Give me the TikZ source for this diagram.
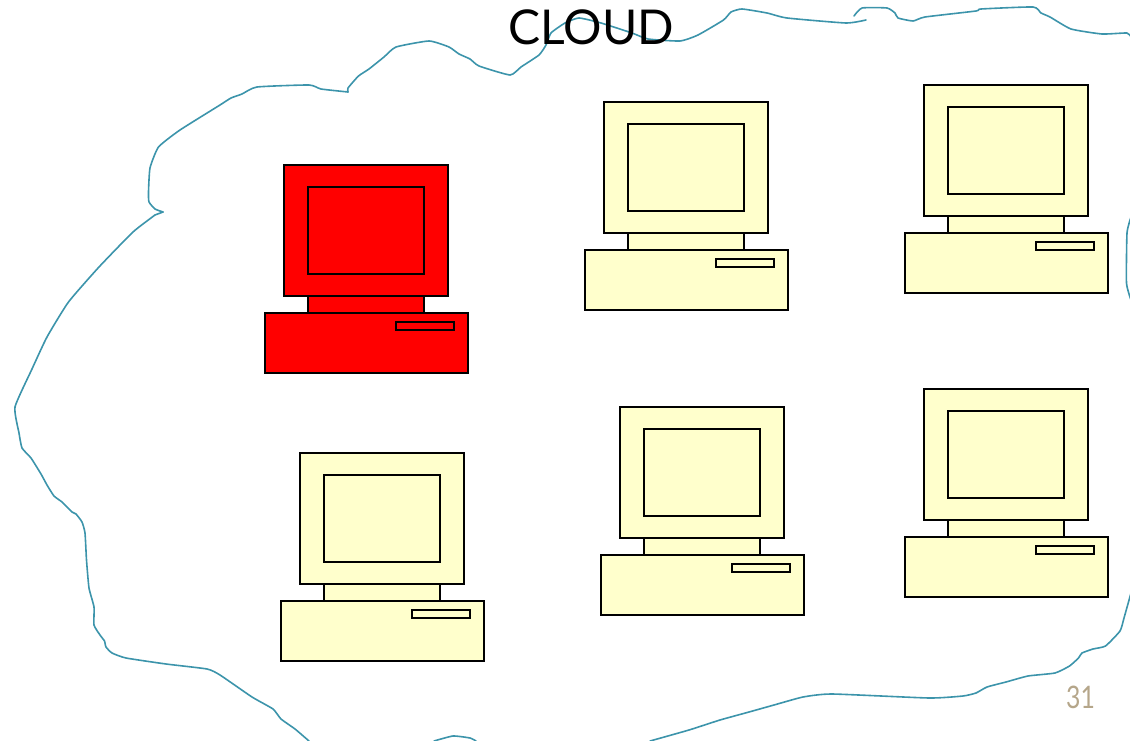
\documentclass[tikz,border=0pt]{standalone}
\usepackage{fontspec}
\setmainfont{Lato}
\newfontfamily\pagefont[FakeStretch=0.8]{Lato}
\definecolor{cloudline}{HTML}{3C94AB}
\definecolor{pcyellow}{HTML}{FFFFCC}
\definecolor{pagetan}{HTML}{B5A68A}
\tikzset{
    pcpart/.style={draw=black, line width=1.7pt, line join=miter},
    cloudedge/.style={draw=cloudline, line width=1.6pt, line join=round, line cap=round}
}
\begin{document}
\begin{tikzpicture}[x=1pt, y=-1pt]
    \useasboundingbox (0,0) rectangle (1130,741);
    \clip (0,0) rectangle (1130,741);
    % cloud outline, hand drawn
    \draw[cloudedge] plot[smooth, tension=0.3] coordinates {(309,741) (295,729) (281,719) (273,709) (252,697) (220,675) (207,669) (166,664) (126,658) (112,653) (106,647) (104.5,641) (100,635) (94,625) (94,607) (89,588) (86.5,560) (85,533) (82,522) (76,514) (72,512) (62,502) (54,496) (47,485) (41,474) (31,458) (22,448) (19,433) (15,407) (32,369) (47,337) (68.5,302) (99,267) (133,232) (155,215)};
    \draw[cloudedge] (155,215) -- (163,212);
    \draw[cloudedge] plot[smooth, tension=0.3] coordinates {(163,212) (155,209) (149,202) (148.5,192) (150,168) (158.5,147) (180,130) (220,105) (231,98) (242,94) (257,87) (309,85) (321,89) (348,92)};
    \draw[cloudedge] plot[smooth, tension=0.3] coordinates {(348,92) (348,88) (358.5,76) (369,69) (384,57) (396,47) (429,41) (449,47) (459,54) (470,59) (479,66) (510,75) (521,67) (539,55) (546,45) (551,33) (565,23) (579,18) (601,23) (632,33) (648,39) (680,41) (698,35) (723.5,20) (731,12) (742,9) (767,13) (787,18) (846,23) (866,20)};
    \draw[cloudedge] plot[smooth, tension=0.3] coordinates {(854,16) (862,8) (887,8) (895,13) (898,18) (913,21) (925,17) (976,11) (981,9) (1033,7) (1041,13) (1050,17) (1071,29) (1102,34) (1127,33) (1131,37)};
    \draw[cloudedge] plot[smooth, tension=0.3] coordinates {(1131,217) (1127,233) (1126.5,283) (1131,300)};
    \draw[cloudedge] plot[smooth, tension=0.3] coordinates {(1131,593) (1124,618) (1120,631) (1105.5,646) (1093,649) (1082,653) (1078.5,658) (1069.5,666) (1055,673) (1028,676) (1006,682) (987,687) (976,693) (963,696) (929,698) (832,694) (803,697) (774,705) (749,712) (720,720) (689,730) (650,741)};
    \draw[cloudedge] plot[smooth, tension=0.3] coordinates {(434,741) (453,736) (470,738) (476,741)};
    % computers
    \foreach \px/\py/\col in {284/165/red, 604/102/pcyellow, 924/85/pcyellow, 300/453/pcyellow, 620/407/pcyellow, 924/389/pcyellow} {
        \begin{scope}[shift={(\px,\py)}]
            \filldraw[pcpart, fill=\col] (24,131) rectangle (140,148);
            \filldraw[pcpart, fill=\col] (0,0) rectangle (164,131);
            \filldraw[pcpart, fill=\col] (24,22) rectangle (140,109);
            \filldraw[pcpart, fill=\col] (-19,148) rectangle (184,208);
            \filldraw[pcpart, fill=\col] (112,157) rectangle (170,165);
        \end{scope}
    }
    \node[inner sep=0pt, anchor=base, font=\fontsize{48}{48}\selectfont] (cloudtitle) at (591.5,45) {CLOUD};
    \node[inner sep=0pt, anchor=base, text=pagetan, font=\pagefont\fontsize{31}{31}\selectfont] (pagenum) at (1080.5,708) {31};
\end{tikzpicture}
\end{document}
